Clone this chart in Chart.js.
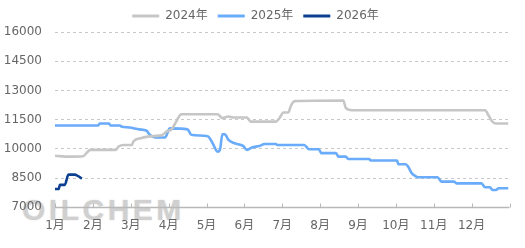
<!DOCTYPE html>
<html>
<head>
<meta charset="utf-8">
<script src="https://cdn.jsdelivr.net/npm/chart.js@4/dist/chart.umd.min.js"></script>
<style>
  html, body { margin: 0; padding: 0; background: #ffffff; }
  #wrap { position: relative; width: 525px; height: 248px; overflow: hidden; background: #ffffff; }
  #wm {
    position: absolute; left: 22px; top: 195px; z-index: 0;
    font-family: 'Liberation Sans', Arial, sans-serif; font-weight: bold;
    font-size: 30px; line-height: 30px; letter-spacing: 3.5px;
    color: #d0d0d0; text-shadow: 0 0 2px #e0e0e0; white-space: nowrap;
  }
  #c { position: absolute; left: 0; top: 0; z-index: 1; }
</style>
</head>
<body>
<div id="wrap">
  <div id="wm">OILCHEM</div>
  <canvas id="c" width="525" height="248"></canvas>
</div>
<script>
// ---- data (dates as MM-DD, values in yuan/ton) ----
const seriesNames = ['2024年', '2025年', '2026年'];
const monthLabels = ['1月','2月','3月','4月','5月','6月','7月','8月','9月','10月','11月','12月'];
const yTicks = [7000, 8500, 10000, 11500, 13000, 14500, 16000];

const dates2024 = ['01-01','01-13','01-24','01-27','01-30','02-18','02-20','02-24','03-02','03-03','03-09','03-15','03-24','03-27','03-31','04-03','04-07','04-11','05-10','05-14','05-19','05-23','06-03','06-06','06-26','06-29','07-02','07-06','07-08','07-11','08-20','08-22','08-27','12-12','12-15','12-18','12-21','12-31'];
const values2024 = [9650,9600,9620,9800,9950,9950,10120,10200,10200,10370,10550,10630,10680,10720,10920,10980,11400,11780,11780,11580,11660,11610,11610,11400,11400,11600,11870,11870,12200,12450,12480,12100,11980,11980,11700,11400,11300,11300];

const dates2025 = ['01-01','02-05','02-06','02-13','02-14','02-21','02-22','02-28','03-08','03-14','03-16','03-21','03-29','04-02','04-16','04-19','05-02','05-06','05-10','05-12','05-14','05-16','05-19','05-24','05-31','06-03','06-07','06-13','06-17','06-26','06-27','07-19','07-23','07-31','08-02','08-14','08-16','08-22','08-24','09-10','09-11','10-02','10-03','10-09','10-11','10-14','10-17','10-19','11-04','11-07','11-17','11-19','12-09','12-12','12-16','12-18','12-21','12-23','12-31'];
const values2025 = [11200,11200,11300,11300,11200,11200,11150,11100,11000,10930,10770,10580,10580,11050,11000,10720,10650,10290,9860,9950,10750,10750,10460,10290,10150,9950,10070,10150,10250,10250,10200,10200,9980,9980,9780,9780,9600,9600,9480,9480,9400,9400,9210,9210,9090,8750,8600,8540,8540,8320,8320,8230,8230,8030,8030,7890,7890,7980,7980];

const dates2026 = ['01-01','01-04','01-05','01-09','01-12','01-17','01-20','01-23'];
const values2026 = [7940,7940,8150,8150,8680,8680,8600,8470];

// ---- helpers ----
const DAYS = [31,28,31,30,31,30,31,31,30,31,30,31];
function pos(d) { const [m, day] = d.split('-').map(Number); return m + (day - 1) / DAYS[m - 1]; }
function pts(dates, vals) { return dates.map((d, i) => ({ x: pos(d), y: vals[i] })); }

const colors = ['#c6c6c6', '#6aabfa', '#0c3f8f'];
const FONT = "'DejaVu Sans', 'Noto Sans CJK SC', sans-serif";

function ds(label, data, color) {
  return {
    label, data, borderColor: color, backgroundColor: color,
    borderWidth: 2.6, pointRadius: 0, pointHoverRadius: 0,
    cubicInterpolationMode: 'monotone', fill: false
  };
}

// x-axis baseline with inward tick marks, placed from the library's x scale
const axisPlugin = {
  id: 'axisLine',
  beforeDatasetsDraw(chart) {
    const { ctx, chartArea } = chart;
    const xs = chart.scales.x;
    const y = Math.round(chartArea.bottom) + 0.5;
    ctx.save();
    ctx.strokeStyle = '#b8b8b8';
    ctx.lineWidth = 1.5;
    ctx.beginPath();
    ctx.moveTo(chartArea.left, y);
    ctx.lineTo(chartArea.right, y);
    ctx.stroke();
    ctx.lineWidth = 1;
    xs.ticks.forEach((t) => {
      const px = Math.round(xs.getPixelForValue(t.value)) + 0.5;
      ctx.beginPath();
      ctx.moveTo(px, y);
      ctx.lineTo(px, y - 4);
      ctx.stroke();
    });
    ctx.restore();
  }
};

new Chart(document.getElementById('c'), {
  type: 'line',
  data: {
    datasets: [
      ds(seriesNames[0], pts(dates2024, values2024), colors[0]),
      ds(seriesNames[1], pts(dates2025, values2025), colors[1]),
      ds(seriesNames[2], pts(dates2026, values2026), colors[2])
    ]
  },
  plugins: [axisPlugin],
  options: {
    responsive: false, animation: false, devicePixelRatio: 1,
    layout: { padding: { left: 0, right: 14, top: 0, bottom: 0 } },
    plugins: {
      tooltip: { enabled: false },
      legend: {
        position: 'top', align: 'center',
        labels: {
          boxWidth: 27, boxHeight: 3, padding: 10, color: '#666', font: { family: FONT, size: 12 },
          generateLabels: (chart) => chart.data.datasets.map((d, i) => ({
            text: d.label, fillStyle: d.borderColor, strokeStyle: d.borderColor, lineWidth: 0,
            fontColor: '#666', hidden: !chart.isDatasetVisible(i), datasetIndex: i
          }))
        }
      }
    },
    scales: {
      x: {
        type: 'linear', min: 1, max: 13,
        afterBuildTicks: (s) => { s.ticks = monthLabels.map((_, i) => ({ value: i + 1 })).concat([{ value: 13 }]); },
        afterFit: (s) => { s.height = 40.7; },
        ticks: {
          autoSkip: false, maxRotation: 0, padding: 15.5, color: '#666',
          font: { family: FONT, size: 12 },
          callback: (v) => (v >= 1 && v <= 12 ? monthLabels[v - 1] : '')
        },
        grid: { display: false, drawOnChartArea: false, drawTicks: true, tickLength: -4 },
        border: { display: false }
      },
      y: {
        min: 7000, max: 16000,
        afterBuildTicks: (s) => { s.ticks = yTicks.map(v => ({ value: v })); },
        afterFit: (s) => { s.width = 55; },
        ticks: { padding: 13, color: '#666', font: { family: FONT, size: 12 }, callback: (v) => String(v) },
        grid: { drawTicks: false, color: '#c8c8c8', lineWidth: 1 },
        border: { display: false, dash: [3, 3] }
      }
    }
  }
});
</script>
</body>
</html>
